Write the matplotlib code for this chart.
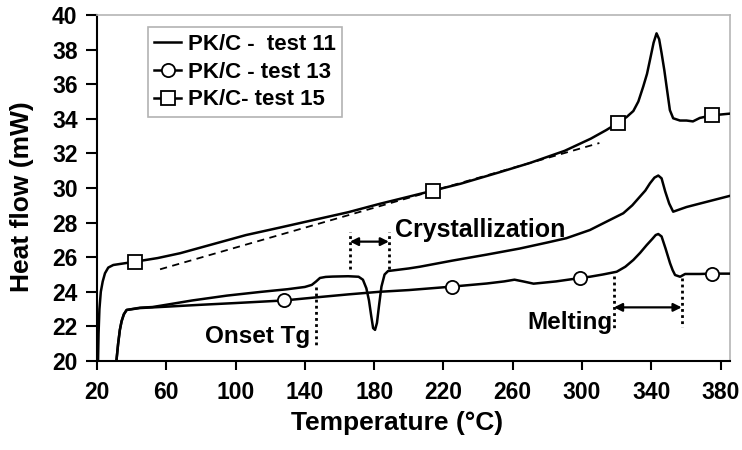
import matplotlib.pyplot as plt
from matplotlib.lines import Line2D

plt.rcParams['font.family'] = ['Liberation Sans', 'DejaVu Sans']
plt.rcParams['font.weight'] = 'bold'
plt.rcParams['axes.labelweight'] = 'bold'

# DSC traces, temperature (C) vs heat flow (mW)
t15 = [20.6, 20.9, 21.4, 22.2, 23.3, 24.6, 26.5, 29.4, 34.0, 42.0, 55.0, 68.0, 85.0,
       106.0, 125.0, 145.0, 165.0, 183.0, 200.0, 214.0, 230.0, 252.0, 270.0, 290.0,
       305.0, 314.0, 321.0, 325.7, 329.6, 332.5, 335.3, 337.5, 339.2, 341.3, 343.0,
       344.5, 345.9, 347.5, 348.8, 350.7, 352.6, 356.5, 360.3, 364.0, 368.0, 375.0,
       385.5]
hf15 = [20.0, 21.6, 23.0, 24.0, 24.6, 25.07, 25.4, 25.55, 25.62, 25.74, 25.95, 26.23,
        26.7, 27.28, 27.7, 28.15, 28.6, 29.08, 29.5, 29.85, 30.25, 30.9, 31.45, 32.15,
        32.85, 33.35, 33.78, 34.1, 34.45, 35.0, 35.86, 36.6, 37.4, 38.4, 38.94, 38.6,
        37.8, 36.8, 35.86, 34.5, 34.03, 33.9, 33.9, 33.85, 34.05, 34.2, 34.3]
mk_t15 = [42.0, 214.0, 321.0, 375.0]
mk_hf15 = [25.74, 29.85, 33.78, 34.2]

t11 = [31.2, 32.2, 33.2, 34.2, 35.5, 37.1, 44.8, 52.0, 60.0, 75.0, 95.0, 115.0, 130.0,
       140.0, 144.0, 146.5, 148.7, 152.0, 156.0, 165.0, 171.0, 173.5, 175.5, 177.0,
       178.3, 179.4, 180.5, 181.6, 182.8, 184.2, 186.0, 188.0, 200.0, 206.4, 225.0,
       245.0, 264.0, 280.0, 291.0, 304.5, 315.0, 323.8, 329.0, 333.4, 336.5, 339.2,
       341.8, 344.0, 345.9, 348.0, 350.3, 352.6, 356.0, 360.3, 368.0, 385.5]
hf11 = [20.0, 21.0, 21.8, 22.3, 22.7, 22.95, 23.08, 23.12, 23.25, 23.5, 23.78, 24.0,
        24.15, 24.28, 24.4, 24.6, 24.8, 24.86, 24.88, 24.9, 24.87, 24.7, 24.2, 23.5,
        22.6, 21.9, 21.8, 22.2, 23.2, 24.3, 25.0, 25.2, 25.35, 25.45, 25.8, 26.15, 26.5,
        26.85, 27.1, 27.57, 28.1, 28.54, 29.0, 29.5, 29.85, 30.27, 30.6, 30.72, 30.56,
        29.8, 29.1, 28.63, 28.75, 28.9, 29.1, 29.55]

t13 = [31.2, 32.2, 33.2, 34.2, 35.5, 37.1, 44.8, 60.0, 80.0, 100.0, 128.0, 148.8,
       165.0, 183.0, 200.0, 225.0, 245.0, 255.0, 261.0, 266.0, 272.0, 285.0, 299.0,
       304.5, 312.0, 320.0, 325.0, 329.6, 333.5, 337.3, 340.5, 342.5, 344.0, 345.9,
       348.2, 350.8, 352.3, 353.7, 356.6, 359.5, 368.0, 375.0, 385.5]
hf13 = [20.0, 21.0, 21.8, 22.3, 22.7, 22.95, 23.06, 23.14, 23.25, 23.35, 23.5, 23.7,
        23.85, 24.0, 24.1, 24.3, 24.48, 24.6, 24.7, 24.6, 24.47, 24.6, 24.8, 24.87,
        25.0, 25.16, 25.45, 25.84, 26.25, 26.7, 27.05, 27.28, 27.34, 27.2, 26.5, 25.65,
        25.25, 24.97, 24.87, 25.03, 25.03, 25.05, 25.05]
mk_t13 = [128.0, 225.0, 299.0, 375.0]
mk_hf13 = [23.5, 24.3, 24.8, 25.05]

# tangent baseline drawn on test 15
base_t = [56.4, 310.0]
base_hf = [25.3, 32.6]

x_ticks = [20, 60, 100, 140, 180, 220, 260, 300, 340, 380]
y_ticks = [20, 22, 24, 26, 28, 30, 32, 34, 36, 38, 40]

fig = plt.figure(figsize=(7.42, 4.5), dpi=100)
ax = fig.add_axes([97 / 742, 89 / 450, 633 / 742, 346 / 450])

lw = 1.8
ax.plot(t15, hf15, color='k', lw=lw, zorder=3)
ax.plot(mk_t15, mk_hf15, ls='none', marker='s', ms=10, mfc='white', mec='k', mew=1.3, zorder=4)
ax.plot(t11, hf11, color='k', lw=lw, zorder=3)
ax.plot(t13, hf13, color='k', lw=lw, zorder=3)
ax.plot(mk_t13, mk_hf13, ls='none', marker='o', ms=9.5, mfc='white', mec='k', mew=1.3, zorder=4)
ax.plot(base_t, base_hf, color='k', lw=1.3, dashes=(4, 3), zorder=2)

# annotations
dot = dict(color='k', lw=2, ls=(0, (1, 1.2)))
ax.plot([146.3, 146.3], [24.3, 20.75], **dot)
ax.plot([166.0, 166.0], [25.3, 27.45], **dot)
ax.plot([188.5, 188.5], [25.3, 27.45], **dot)
ax.plot([318.4, 318.4], [24.9, 21.85], **dot)
ax.plot([357.5, 357.5], [24.8, 21.95], **dot)
arrow = dict(arrowstyle='<|-|>', color='k', lw=1.6, mutation_scale=12, shrinkA=0, shrinkB=0)
ax.annotate('', xy=(166.0, 26.9), xytext=(188.5, 26.9), arrowprops=arrow)
ax.annotate('', xy=(318.4, 23.1), xytext=(357.5, 23.1), arrowprops=arrow)

ax.text(142.9, 21.4, 'Onset Tg', fontsize=17.5, ha='right', va='center')
ax.text(192.0, 27.6, 'Crystallization', fontsize=18, ha='left', va='center')
ax.text(317.3, 22.2, 'Melting', fontsize=17.5, ha='right', va='center')

ax.set_xlim(20, 385.4)
ax.set_ylim(20, 40)
ax.set_xticks(x_ticks)
ax.set_yticks(y_ticks)
ax.tick_params(axis='both', labelsize=16.5, width=1.5, direction='out')
ax.tick_params(axis='y', length=8, pad=6)
ax.tick_params(axis='x', length=6.5, pad=8)
for s in ['top', 'right']:
    ax.spines[s].set_color('#b5b5b5')
    ax.spines[s].set_linewidth(1.2)
for s in ['left', 'bottom']:
    ax.spines[s].set_linewidth(1.5)

ax.set_xlabel('Temperature (°C)', fontsize=19)
ax.xaxis.set_label_coords(0.474, -0.145)
ax.set_ylabel('Heat flow (mW)', fontsize=19)
ax.yaxis.set_label_coords(-0.1, 0.474)

handles = [
    Line2D([], [], color='k', lw=lw),
    Line2D([], [], color='k', lw=lw, marker='o', ms=9.5, mfc='white', mec='k', mew=1.3),
    Line2D([], [], color='k', lw=lw, marker='s', ms=10, mfc='white', mec='k', mew=1.3),
]
labels = ['PK/C -  test 11', 'PK/C - test 13', 'PK/C- test 15']
leg = ax.legend(handles, labels, loc='upper left', bbox_to_anchor=(0.080, 0.9645),
                borderaxespad=0, fancybox=False, fontsize=16, handlelength=1.2,
                handletextpad=0.3, labelspacing=0.3, borderpad=0.3)
leg.get_frame().set_edgecolor('#a0a0a0')
leg.get_frame().set_linewidth(1.2)

fig.savefig('out.png', dpi=100)
